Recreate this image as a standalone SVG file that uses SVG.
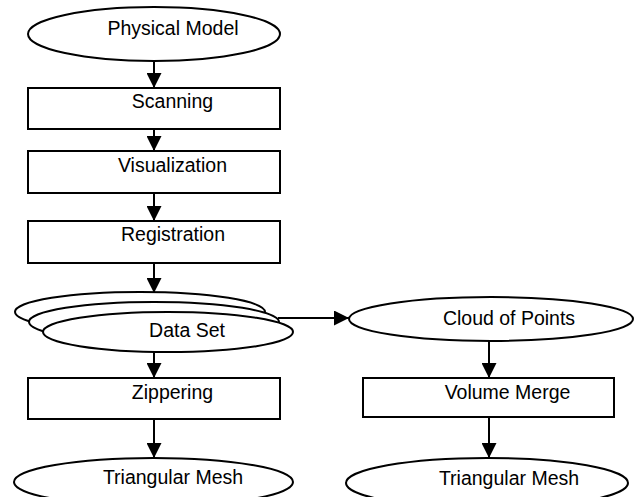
<svg xmlns="http://www.w3.org/2000/svg" width="636" height="497" viewBox="0 0 636 497">
<style>
.n{fill:#fff;stroke:#000;stroke-width:2}
.t{font-family:"Liberation Sans",Arial,sans-serif;font-size:19.5px;fill:#000;text-anchor:middle}
.c{stroke:#000;stroke-width:2;fill:none;marker-end:url(#ah)}
</style>
<defs>
<marker id="ah" markerUnits="userSpaceOnUse" markerWidth="15" markerHeight="15" refX="15" refY="7.5" orient="auto">
<path d="M0,0 L15,7.5 L0,15 z" fill="#000"/>
</marker>
</defs>
<rect width="636" height="497" fill="#fff"/>
<g id="connectors">
<line class="c" x1="154" y1="61" x2="154" y2="88"/>
<line class="c" x1="154" y1="129" x2="154" y2="151"/>
<line class="c" x1="154" y1="193" x2="154" y2="221"/>
<line class="c" x1="154" y1="263" x2="154" y2="293"/>
<line class="c" x1="278" y1="318" x2="349" y2="318"/>
<line class="c" x1="154" y1="352" x2="154" y2="378"/>
<line class="c" x1="154" y1="419" x2="154" y2="458"/>
<line class="c" x1="489" y1="341" x2="489" y2="378"/>
<line class="c" x1="489" y1="417" x2="489" y2="458"/>
</g>
<g id="physical-model">
<ellipse class="n" cx="154" cy="34" rx="126" ry="27"/>
<text class="t" x="173" y="35">Physical Model</text>
</g>
<g id="scanning">
<rect class="n" x="28" y="88" width="252" height="41"/>
<text class="t" x="172.5" y="108">Scanning</text>
</g>
<g id="visualization">
<rect class="n" x="28" y="151" width="252" height="42"/>
<text class="t" x="172.5" y="171.5">Visualization</text>
</g>
<g id="registration">
<rect class="n" x="28" y="221" width="252" height="42"/>
<text class="t" x="173" y="241">Registration</text>
</g>
<g id="data-set">
<ellipse class="n" cx="140" cy="312" rx="125" ry="20"/>
<ellipse class="n" cx="154" cy="322" rx="125" ry="20"/>
<ellipse class="n" cx="168" cy="332" rx="125" ry="20"/>
<text class="t" x="187" y="337">Data Set</text>
</g>
<g id="zippering">
<rect class="n" x="28" y="378" width="252" height="41"/>
<text class="t" x="172.5" y="398.5">Zippering</text>
</g>
<g id="triangular-mesh-left">
<ellipse class="n" cx="153.5" cy="482" rx="139.5" ry="24"/>
<text class="t" x="173" y="483.5">Triangular Mesh</text>
</g>
<g id="cloud-of-points">
<ellipse class="n" cx="491" cy="319" rx="142" ry="22"/>
<text class="t" x="509" y="324.5">Cloud of Points</text>
</g>
<g id="volume-merge">
<rect class="n" x="363" y="378" width="251" height="39"/>
<text class="t" x="507.5" y="398.5">Volume Merge</text>
</g>
<g id="triangular-mesh-right">
<ellipse class="n" cx="487" cy="483" rx="141" ry="25"/>
<text class="t" x="509" y="485">Triangular Mesh</text>
</g>
</svg>
